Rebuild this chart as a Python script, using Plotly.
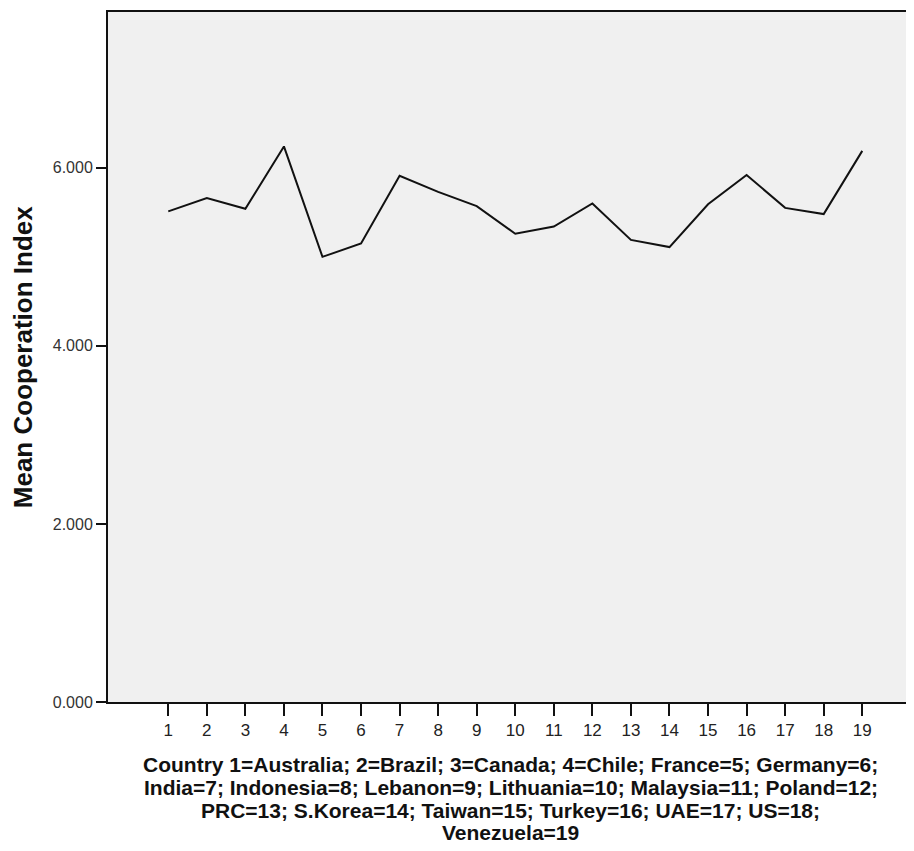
import plotly.graph_objects as go

countries = list(range(1, 20))
mean_coop = [5.51, 5.66, 5.54, 6.24, 5.00, 5.15, 5.91, 5.73, 5.57, 5.26,
             5.34, 5.60, 5.19, 5.11, 5.59, 5.92, 5.55, 5.48, 6.19]
y_ticks = [0, 2, 4, 6]
y_title = "Mean Cooperation Index"
x_title_lines = [
    "Country 1=Australia; 2=Brazil; 3=Canada; 4=Chile; France=5; Germany=6;",
    "India=7; Indonesia=8; Lebanon=9; Lithuania=10; Malaysia=11; Poland=12;",
    "PRC=13; S.Korea=14; Taiwan=15; Turkey=16; UAE=17; US=18;",
    "Venezuela=19",
]

# the page body has an 8px margin; figure is sized to fit the window
OFF = 8
W, H = 914 - OFF, 851 - OFF
L, R, T = 108 - OFF, 0, 12 - OFF
B = H - (702 - OFF)
FONT = "Liberation Sans, Arial, sans-serif"

fig = go.Figure()
fig.add_trace(go.Scatter(x=countries, y=mean_coop, mode="lines",
                         line=dict(color="#111111", width=2), showlegend=False))

fig.update_layout(
    width=W, height=H,
    margin=dict(l=L, r=R, t=T, b=B),
    paper_bgcolor="white",
    plot_bgcolor="#f0f0f0",
    xaxis=dict(range=[-0.563, 20.29], tickvals=countries,
               ticktext=[str(c) for c in countries],
               ticks="outside", ticklen=12, tickwidth=1.5, tickcolor="#111111",
               showline=True, linecolor="#111111", linewidth=2, mirror=True,
               showgrid=False, zeroline=False,
               tickfont=dict(family=FONT, size=17, color="#222222")),
    yaxis=dict(range=[0, 7.75], tickvals=y_ticks,
               ticktext=[f"{v:.3f}" for v in y_ticks],
               ticks="outside", ticklen=10, tickwidth=1.5, tickcolor="#111111",
               showline=True, linecolor="#111111", linewidth=2, mirror=True,
               showgrid=False, zeroline=False,
               tickfont=dict(family=FONT, size=16, color="#333333")),
)

pw = W - L - R
ph = H - T - B
# y-axis title (page coords x=23, centred on plot)
fig.add_annotation(text=f"<b>{y_title}</b>", textangle=-90,
                   xref="paper", yref="paper",
                   x=(23 - OFF - L) / pw, y=0.5, xanchor="center", yanchor="middle",
                   showarrow=False,
                   font=dict(family=FONT, size=26, color="#111111"))
# x-axis title lines (page coords)
line_centers = [764, 787, 810, 832]
for txt, yc in zip(x_title_lines, line_centers):
    fig.add_annotation(text=f"<b>{txt}</b>", xref="paper", yref="paper",
                       x=(512 - OFF - L) / pw, y=(H - B - (yc - OFF)) / ph,
                       xanchor="center", yanchor="middle", showarrow=False,
                       font=dict(family=FONT, size=21, color="#111111"))

fig.write_html("out.html")
